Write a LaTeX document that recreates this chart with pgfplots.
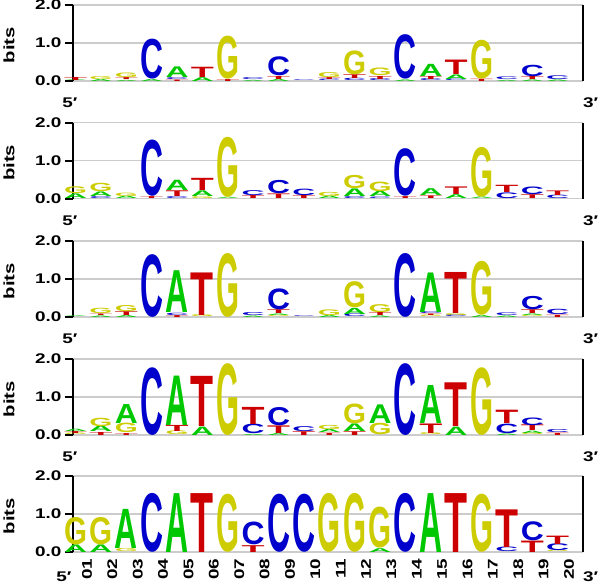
\documentclass[border=0pt]{standalone}
\usepackage{fontspec}
\setmainfont{Liberation Sans}
\usepackage{graphicx}
\usepackage{pgfplots}
\pgfplotsset{compat=1.18}
\newfontfamily\lblfont{Liberation Sans}[UprightFont={* Bold}, FakeStretch=1.35]
\newfontfamily\logofont{Liberation Sans}[UprightFont={* Bold}]
\definecolor{logoA}{RGB}{0,200,0}
\definecolor{logoC}{RGB}{0,0,204}
\definecolor{logoG}{RGB}{204,204,0}
\definecolor{logoT}{RGB}{204,0,0}
\newlength\yunit \setlength\yunit{38pt}
\pgfdeclareplotmark{blank}{}
\newcommand\logoletter[2]{\resizebox*{23pt}{#2\yunit}{\logofont\color{logo#1}#1}}
\pgfplotsset{
  logoaxis/.style={
    scale only axis, width=510pt, height=76pt,
    xmin=0.45, xmax=20.55, ymin=0, ymax=2,
    anchor=south west, clip=false,
    axis line style={draw=none},
    ytick={0,1,2}, ytick pos=left, tick align=outside,
    major tick length=8pt,
    ytick style={black, line width=2pt},
    yticklabel style={/pgf/number format/.cd, fixed, fixed zerofill, precision=1},
    /pgf/number format/assume math mode=true,
    tick label style={font=\lblfont\fontsize{14}{14}\selectfont},
    ymajorgrids, grid style={line width=1.6pt, black!20},
    xtick=\empty,
    ylabel={bits},
    ylabel style={at={(axis description cs:-0.1255,0.47)}, anchor=center, font=\lblfont\fontsize{15}{15}\selectfont},
  },
  logo/.style={scatter, only marks, mark=blank,
    visualization depends on={value \thisrow{h} \as \hval},
    visualization depends on={value \thisrow{L} \as \lval},
    scatter/@pre marker code/.code={\node[inner sep=0pt, outer sep=0pt, anchor=south] at (0,0) {\logoletter{\lval}{\hval}};},
    scatter/@post marker code/.code={},
  },
}
\newcommand\spines{%
  \draw[line width=2pt] (rel axis cs:0,0) -- (rel axis cs:0,1);
  \draw[line width=2pt] (rel axis cs:1,0) -- (rel axis cs:1,1);
  \draw[line width=2pt] (rel axis cs:0,0) -- ++(-8pt,0pt);
  \draw[line width=2pt] (rel axis cs:0,0.5) -- ++(-8pt,0pt);
  \draw[line width=2pt] (rel axis cs:0,1) -- ++(-8pt,0pt);}
\newcommand\primeends[2]{%
  \node[font=\lblfont\fontsize{14}{14}\selectfont] at ([yshift=-#1]axis description cs:#2,0) {5′};
  \node[font=\lblfont\fontsize{14}{14}\selectfont] at ([yshift=-#1]axis description cs:1.015,0) {3′};}
\begin{document}
\begin{tikzpicture}
\path[use as bounding box] (0pt,0pt) rectangle (600pt,-584pt);
% ---------------- panel 1
\begin{axis}[logoaxis, at={(73pt,-81pt)}]
\addplot[logo] table {
x y h L
1 0 0.02 A
1 0.02 0.08 T
2 0 0.05 A
2 0.05 0.08 G
3 0 0.03 A
3 0.03 0.05 T
3 0.08 0.12 G
4 0 0.05 A
4 0.05 1.05 C
5 0 0.04 T
5 0.04 0.05 C
5 0.09 0.28 A
6 0 0.10 A
6 0.10 0.27 T
7 0 0.05 T
7 0.05 1.13 G
8 0 0.03 A
8 0.03 0.05 C
9 0 0.05 A
9 0.05 0.08 T
9 0.13 0.50 C
10 0 0.02 C
11 0 0.04 C
11 0.04 0.05 T
11 0.09 0.13 G
12 0 0.06 C
12 0.06 0.10 T
12 0.16 0.63 G
13 0 0.05 C
13 0.05 0.08 T
13 0.13 0.20 G
14 0 0.04 A
14 0.04 1.17 C
15 0 0.05 C
15 0.05 0.08 T
15 0.13 0.32 A
16 0 0.04 C
16 0.04 0.12 A
16 0.16 0.38 T
17 0 0.06 T
17 0.06 1.02 G
18 0 0.03 A
18 0.03 0.07 C
19 0 0.04 A
19 0.04 0.08 T
19 0.12 0.30 C
20 0 0.04 A
20 0.04 0.10 C
};
\spines
\primeends{22pt}{-0.006}
\end{axis}
% ---------------- panel 2
\begin{axis}[logoaxis, at={(73pt,-198.5pt)}]
\addplot[logo] table {
x y h L
1 0 0.12 A
1 0.12 0.18 G
2 0 0.05 C
2 0.05 0.12 A
2 0.17 0.22 G
3 0 0.06 A
3 0.06 0.09 G
4 0 0.05 T
4 0.05 1.48 C
5 0 0.05 C
5 0.05 0.15 T
5 0.20 0.27 A
6 0 0.05 G
6 0.05 0.15 A
6 0.20 0.32 T
7 0 0.03 A
7 0.03 1.58 G
8 0 0.08 T
8 0.08 0.13 C
9 0 0.12 T
9 0.12 0.35 C
10 0 0.08 T
10 0.08 0.17 C
11 0 0.06 A
11 0.06 0.11 G
12 0 0.05 C
12 0.05 0.20 A
12 0.25 0.35 G
13 0 0.04 C
13 0.04 0.14 A
13 0.18 0.25 G
14 0 0.05 T
14 0.05 1.25 C
15 0 0.07 T
15 0.07 0.18 A
16 0 0.10 A
16 0.10 0.20 T
17 0 0.04 A
17 0.04 1.31 G
18 0 0.15 C
18 0.15 0.19 T
19 0 0.10 T
19 0.10 0.20 C
20 0 0.09 C
20 0.09 0.12 T
};
\spines
\primeends{22pt}{-0.006}
\end{axis}
% ---------------- panel 3
\begin{axis}[logoaxis, at={(73pt,-317pt)}]
\addplot[logo] table {
x y h L
1 0 0.02 A
2 0 0.04 A
2 0.04 0.04 T
2 0.08 0.14 G
3 0 0.05 A
3 0.05 0.10 T
3 0.15 0.16 G
4 0 1.65 C
5 0 0.05 T
5 0.05 0.06 C
5 0.11 1.10 A
6 0 0.05 G
6 0.05 1.12 T
7 0 1.68 G
8 0 0.04 A
8 0.04 0.08 C
9 0 0.04 G
9 0.04 0.04 A
9 0.08 0.10 T
9 0.18 0.55 C
10 0 0.02 C
11 0 0.05 A
11 0.05 0.15 G
12 0 0.07 C
12 0.07 0.16 A
12 0.23 0.69 G
13 0 0.04 A
13 0.04 0.08 T
13 0.12 0.21 G
14 0 1.68 C
15 0 0.04 G
15 0.04 0.04 T
15 0.08 0.05 C
15 0.13 1.04 A
16 0 0.05 C
16 0.05 0.05 G
16 0.10 1.08 T
17 0 0.05 A
17 0.05 1.42 G
18 0 0.04 A
18 0.04 0.07 C
19 0 0.04 G
19 0.04 0.04 A
19 0.08 0.10 T
19 0.18 0.35 C
20 0 0.06 T
20 0.06 0.14 C
};
\spines
\primeends{22pt}{-0.006}
\end{axis}
% ---------------- panel 4
\begin{axis}[logoaxis, at={(73pt,-435pt)}]
\addplot[logo] table {
x y h L
1 0 0.04 G
1 0.04 0.05 T
1 0.09 0.06 A
2 0 0.08 T
2 0.08 0.15 A
2 0.23 0.22 G
3 0 0.05 T
3 0.05 0.25 G
3 0.30 0.50 A
4 0 1.78 C
5 0 0.10 G
5 0.10 0.16 T
5 0.26 1.30 A
6 0 0.22 A
6 0.22 1.32 T
7 0 1.89 G
8 0 0.03 A
8 0.03 0.25 C
8 0.28 0.45 T
9 0 0.05 A
9 0.05 0.20 T
9 0.25 0.48 C
10 0 0.10 T
10 0.10 0.13 C
11 0 0.06 T
11 0.06 0.08 A
11 0.14 0.11 G
12 0 0.10 T
12 0.10 0.20 A
12 0.30 0.52 G
13 0 0.30 G
13 0.30 0.49 A
14 0 1.89 C
15 0 0.05 G
15 0.05 0.25 T
15 0.30 1.00 A
16 0 0.22 A
16 0.22 1.15 T
17 0 1.78 G
18 0 0.04 A
18 0.04 0.25 C
18 0.29 0.35 T
19 0 0.05 G
19 0.05 0.06 A
19 0.11 0.15 T
19 0.26 0.20 C
20 0 0.06 T
20 0.06 0.08 C
};
\spines
\primeends{22pt}{-0.006}
\end{axis}
% ---------------- panel 5
\begin{axis}[logoaxis, at={(73pt,-552pt)},
  xtick={1,...,20},
  xticklabels={01,02,03,04,05,06,07,08,09,10,11,12,13,14,15,16,17,18,19,20},
  xtick pos=bottom, xtick style={draw=none},
  xticklabel style={rotate=90, anchor=east},
  xticklabel shift=-5pt]
\addplot[logo] table {
x y h L
1 0 0.20 A
1 0.20 0.72 G
2 0 0.20 A
2 0.20 0.72 G
3 0 0.08 G
3 0.08 1.03 A
4 0 1.55 C
5 0 1.55 A
6 0 1.55 T
7 0 1.53 G
8 0 0.18 T
8 0.18 0.60 C
9 0 1.53 C
10 0 1.53 C
11 0 1.55 G
12 0 1.55 G
13 0 0.10 A
13 0.10 1.08 G
14 0 1.55 C
15 0 1.55 A
16 0 1.55 T
17 0 1.53 G
18 0 0.12 C
18 0.12 0.99 T
19 0 0.30 T
19 0.30 0.50 C
20 0 0.03 G
20 0.03 0.18 C
20 0.21 0.22 T
};
\spines
\primeends{25pt}{-0.018}
\end{axis}
\end{tikzpicture}
\end{document}
